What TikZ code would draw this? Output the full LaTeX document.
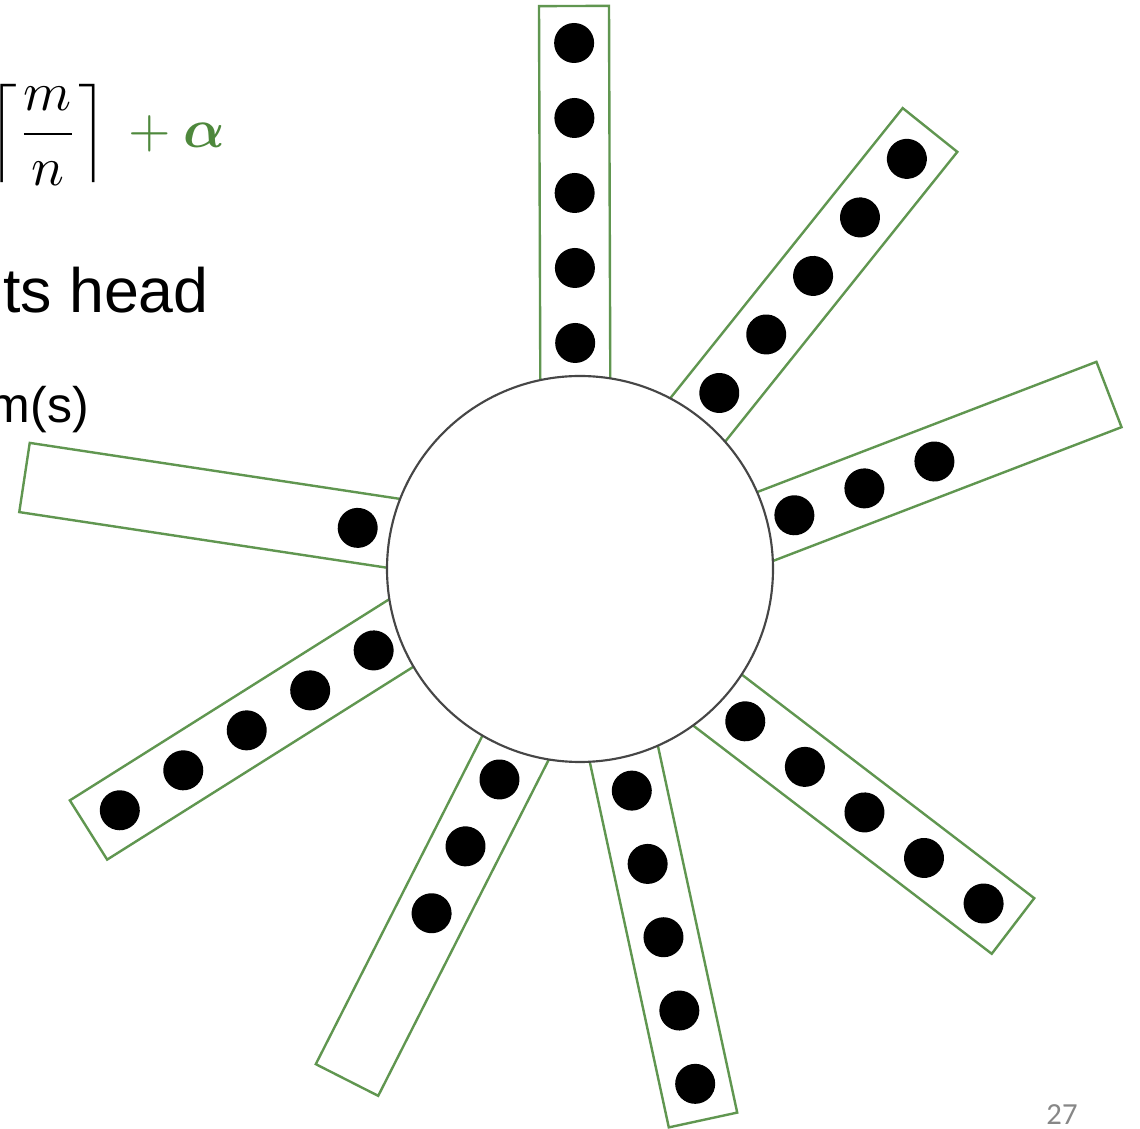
\documentclass[tikz,border=0pt]{standalone}
\usepackage{amsmath,bm,graphicx}
\usepackage{fontspec}
\setmainfont{Liberation Sans}
\newfontfamily\pagefont{Carlito}
\definecolor{bargreen}{RGB}{96,150,80}
\definecolor{mathgreen}{RGB}{78,136,60}
\definecolor{ringgray}{RGB}{70,70,70}
\definecolor{pagegray}{RGB}{135,135,135}
\tikzset{
  bar/.style={draw=bargreen, line width=1.8pt, fill=white},
  dot/.style={fill=black},
  ring/.style={draw=ringgray, line width=1.6pt, fill=white},
  bigtext/.style={inner sep=0pt, font=\fontsize{47}{56}\selectfont},
  midtext/.style={inner sep=0pt, font=\fontsize{37.5}{45}\selectfont},
}
\begin{document}
\begin{tikzpicture}[x=0.75pt,y=0.75pt]
\useasboundingbox (0,0) rectangle (1140,1129);
\clip (0,0) rectangle (1140,1129);
% bars radiating from the hub
\foreach \n/\ox/\oy/\ang/\first in {
  1/574/1123/-89.8/1,
  2/930/999/-128.7/1,
  3/1109/734.5/-159.0/3,
  4/24.5/651.5/-8.6/5,
  5/88.5/299/32.2/1,
  6/347/49/63.1/3,
  7/703/9/102.2/1,
  8/1013/203/142.6/1}{
  \begin{scope}[shift={(\ox,\oy)}, rotate=\ang]
    \draw[bar] (0,-35) rectangle (560,35);
    \foreach \k in {\first,...,5} \fill[dot] (-38+75*\k,0) circle (20);
  \end{scope}
}
% hub
\draw[ring] (580,560) circle (193);
% texts
\node[inner sep=0pt, anchor=east] (formula) at (225,994)
  {\scalebox{4.1}{$\left\lceil\dfrac{m}{n}\right\rceil \color{mathgreen}{}+\bm{\alpha}$}};
\node[bigtext, anchor=base east] (head) at (209,816) {ts head};
\node[midtext, anchor=base east] (items) at (89,706) {m(s)};
\node[inner sep=0pt, anchor=base, text=pagegray, font=\pagefont\fontsize{23}{28}\selectfont] (page) at (1062,4) {27};
\end{tikzpicture}
\end{document}
